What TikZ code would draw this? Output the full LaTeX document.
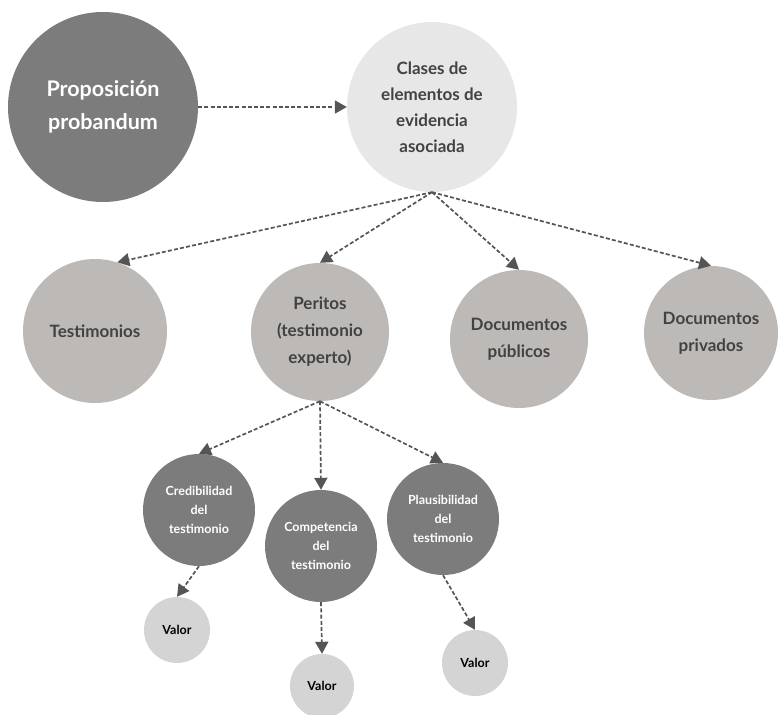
\documentclass[tikz,border=0pt]{standalone}
\usepackage{fontspec}
\setmainfont{Lato}
\usetikzlibrary{arrows.meta}
\definecolor{oscuro}{HTML}{7C7C7C}
\definecolor{claro}{HTML}{E7E7E7}
\definecolor{medio}{HTML}{BDB9B6}
\definecolor{valorc}{HTML}{D4D4D4}
\definecolor{textoc}{HTML}{424242}
\definecolor{flechac}{HTML}{555555}

\begin{document}
\begin{tikzpicture}[x=1pt,y=-1pt,
    circulo/.style={circle,inner sep=0pt,align=center},
    grande/.style={circulo,fill=oscuro,text=white,font=\fontsize{21.5}{33}\selectfont\bfseries},
    clase/.style={circulo,fill=claro,text=textoc,font=\fontsize{17}{26}\selectfont\bfseries},
    tipo/.style={circulo,fill=medio,text=textoc,font=\fontsize{17}{27}\selectfont\bfseries},
    criterio/.style={circulo,fill=oscuro,text=white,font=\fontsize{12.5}{19}\selectfont\bfseries},
    valor/.style={circulo,fill=valorc,text=black,font=\fontsize{12.5}{15}\selectfont\bfseries,minimum size=66pt},
    flecha/.style={draw=flechac,line width=1.7pt,dash pattern=on 4pt off 2.2pt,-{Triangle[length=12pt,width=13pt]}}]
	% 边框
	\useasboundingbox (0,0) rectangle (778,714);
	% 第一层
	\node[grande,minimum size=190pt] (prop) at (103,107) {Proposición\\probandum};
	\node[clase,minimum size=170pt] (clases) at (432,107) {Clases de\\elementos de\\evidencia\\asociada};
	% 第二层
	\node[tipo,minimum size=144pt] (testim) at (95,331) {Testimonios};
	\node[tipo,minimum size=138pt] (peritos) at (320,332) {Peritos\\(testimonio\\experto)};
	\node[tipo,minimum size=138pt] (publicos) at (519,339) {Documentos\\públicos};
	\node[tipo,minimum size=134pt] (privados) at (711,333) {Documentos\\privados};
	% 第三层
	\node[criterio,minimum size=112pt] (credib) at (199,510) {Credibilidad\\del\\testimonio};
	\node[criterio,minimum size=112pt] (compet) at (321,546) {Competencia\\del\\testimonio};
	\node[criterio,minimum size=112pt] (plaus) at (443,519) {Plausibilidad\\del\\testimonio};
	% 数值
	\node[valor] (valorA) at (177,630) {Valor};
	\node[valor,minimum size=64pt] (valorB) at (322,686) {Valor};
	\node[valor] (valorC) at (475,663) {Valor};
	% 箭头
	\draw[flecha] (prop.east) -- (clases.west);
	\draw[flecha] (clases.south) -- (testim.72);
	\draw[flecha] (clases.south) -- (peritos.north);
	\draw[flecha] (clases.south) -- (publicos.north);
	\draw[flecha] (clases.south) -- (privados.north);
	\draw[flecha] (peritos.south) -- (credib.north);
	\draw[flecha] (peritos.south) -- (compet.north);
	\draw[flecha] (peritos.south) -- (plaus.north);
	\draw[flecha] (credib.south) -- (valorA.north);
	\draw[flecha] (compet.south) -- (valorB.north);
	\draw[flecha] (plaus.south) -- (valorC.north);
\end{tikzpicture}
\end{document}
